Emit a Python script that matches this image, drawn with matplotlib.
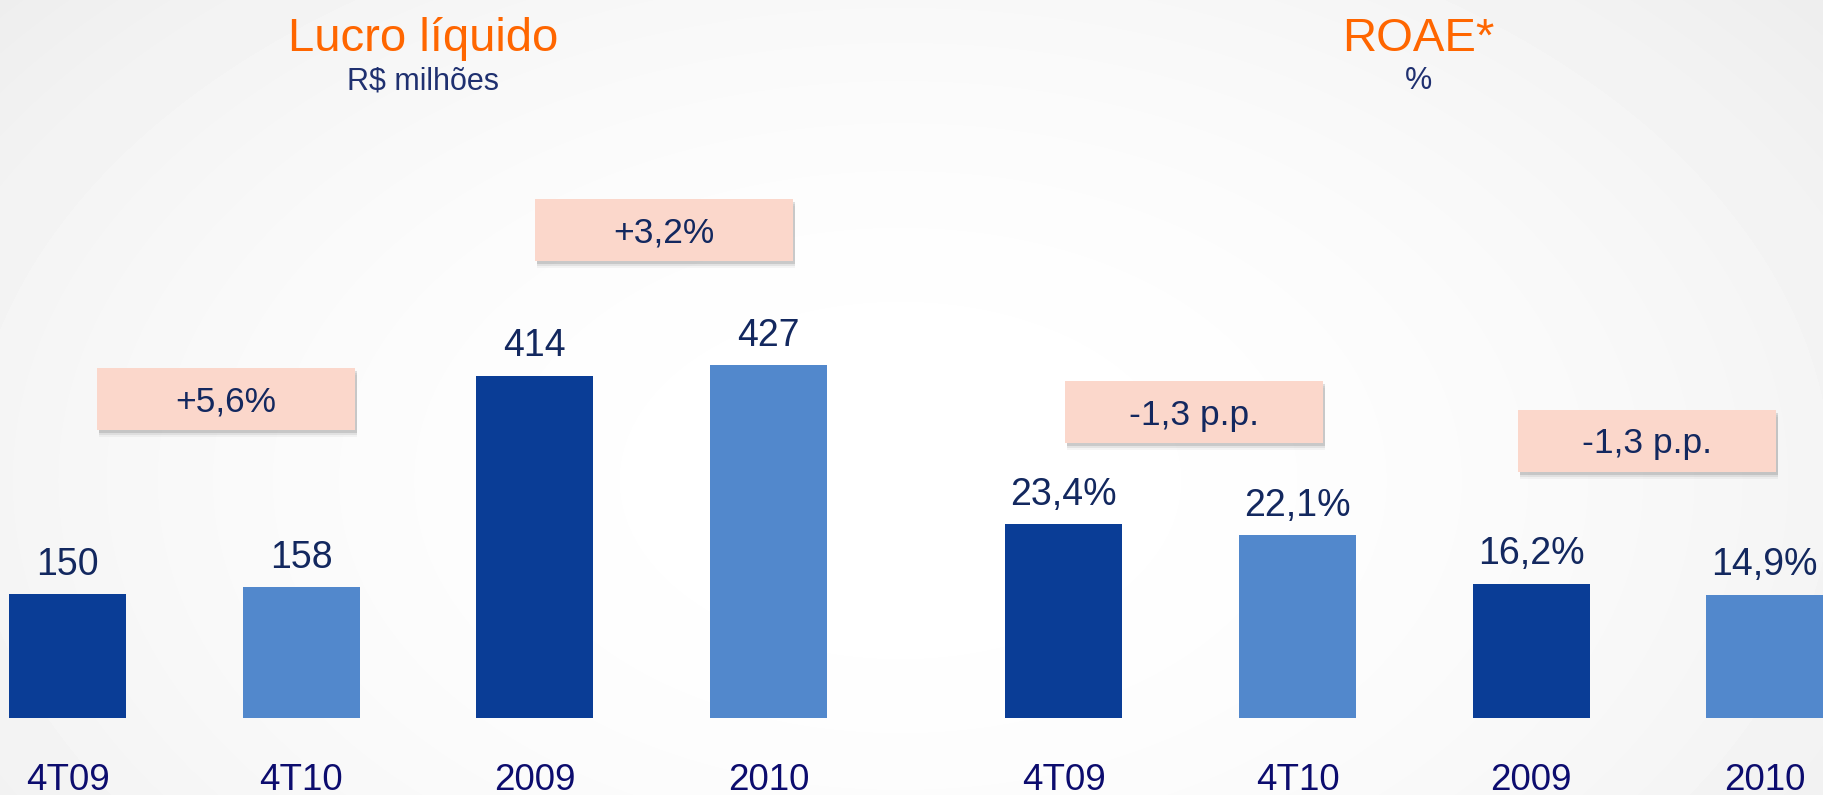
import numpy as np
import matplotlib
matplotlib.use("Agg")
import matplotlib.pyplot as plt
import matplotlib.transforms as mtransforms
from matplotlib.patches import Rectangle

# data
lucro_cats = ["4T09", "4T10", "2009", "2010"]
lucro_vals = [150, 158, 414, 427]
lucro_labels = ["150", "158", "414", "427"]
roae_cats = ["4T09", "4T10", "2009", "2010"]
roae_vals = [23.4, 22.1, 16.2, 14.9]
roae_labels = ["23,4%", "22,1%", "16,2%", "14,9%"]
box_texts = ["+5,6%", "+3,2%", "-1,3 p.p.", "-1,3 p.p."]

DARK = "#0A3D96"
LIGHT = "#5288CC"
NAVY = "#13285F"
TICK = "#0C0C6E"
ORANGE = "#FF6600"
PEACH = "#FBD7CB"
SANS = ["Liberation Sans", "DejaVu Sans"]

W, H = 1823, 795
fig = plt.figure(figsize=(W / 100, H / 100), dpi=100)

# soft radial background
bg = fig.add_axes([0, 0, 1, 1], zorder=0)
yy, xx = np.mgrid[0:H, 0:W]
r = np.sqrt(((xx - 900) / 1100.0) ** 2 + ((yy - 480) / 700.0) ** 2)
img = 1.0 - 0.06 * np.clip(r, 0, 1.3) ** 2
bg.imshow(img, cmap="gray", vmin=0, vmax=1, aspect="auto", extent=(0, W, H, 0))
bg.set_xlim(0, W)
bg.set_ylim(H, 0)
bg.axis("off")

# bar axes, baseline at y=718 px
rect = [0, 77 / H, 1, 718 / H]
ax1 = fig.add_axes(rect, zorder=2)
ax2 = fig.add_axes(rect, zorder=2)
xmin, xmax = -67.5 / 233.7, (W - 67.5) / 233.7
pos1 = np.arange(4)
pos2 = np.arange(4) + 4.263
colors = [DARK, LIGHT, DARK, LIGHT]

for ax, pos, vals, labels, cats, top in [
    (ax1, pos1, lucro_vals, lucro_labels, lucro_cats, 868.5),
    (ax2, pos2, roae_vals, roae_labels, roae_cats, 86.7),
]:
    ax.patch.set_alpha(0)
    ax.bar(pos, vals, width=0.5, color=colors, linewidth=0)
    for x, v, lab in zip(pos, vals, labels):
        ax.annotate(lab, (x, v), xytext=(0, 14), textcoords="offset points",
                    ha="center", va="baseline", fontsize=27, color=NAVY,
                    family=SANS)
    tr = mtransforms.blended_transform_factory(ax.transData, fig.transFigure)
    for x, c in zip(pos, cats):
        ax.text(x, 1 - 790 / H, c, transform=tr, ha="center", va="baseline",
                fontsize=26.5, color=TICK, family=SANS)
    ax.set_xlim(xmin, xmax)
    ax.set_ylim(0, top)
    ax.axis("off")

# overlay in pixel coords for titles and change boxes
ov = fig.add_axes([0, 0, 1, 1], zorder=3)
ov.patch.set_alpha(0)
ov.set_xlim(0, W)
ov.set_ylim(H, 0)
ov.axis("off")

ov.text(423, 51, "Lucro líquido", ha="center", va="baseline", fontsize=34,
        color=ORANGE, family=SANS)
ov.text(423, 89, "R$ milhões", ha="center", va="baseline", fontsize=22,
        color="#1F3070", family=SANS)
ov.text(1418, 51, "ROAE*", ha="center", va="baseline", fontsize=34,
        color=ORANGE, family=SANS)
ov.text(1418, 89, "%", ha="center", va="baseline", fontsize=22,
        color="#1F3070", family=SANS)

boxes = [(97, 368), (535, 199), (1065, 381), (1518, 410)]
bw, bh = 258, 62
for (bx, by), t in zip(boxes, box_texts):
    # blurred shadow
    for d, a in [(7, 0.06), (5, 0.10), (3, 0.18)]:
        ov.add_patch(Rectangle((bx + 2, by + d), bw, bh, color="#555555",
                               alpha=a, linewidth=0))
    ov.add_patch(Rectangle((bx, by), bw, bh, facecolor=PEACH, linewidth=0))
    ov.text(bx + bw / 2, by + bh / 2 + 12.5, t, ha="center", va="baseline",
            fontsize=25.5, color=NAVY, family=SANS)

fig.savefig("out.png", dpi=100)
